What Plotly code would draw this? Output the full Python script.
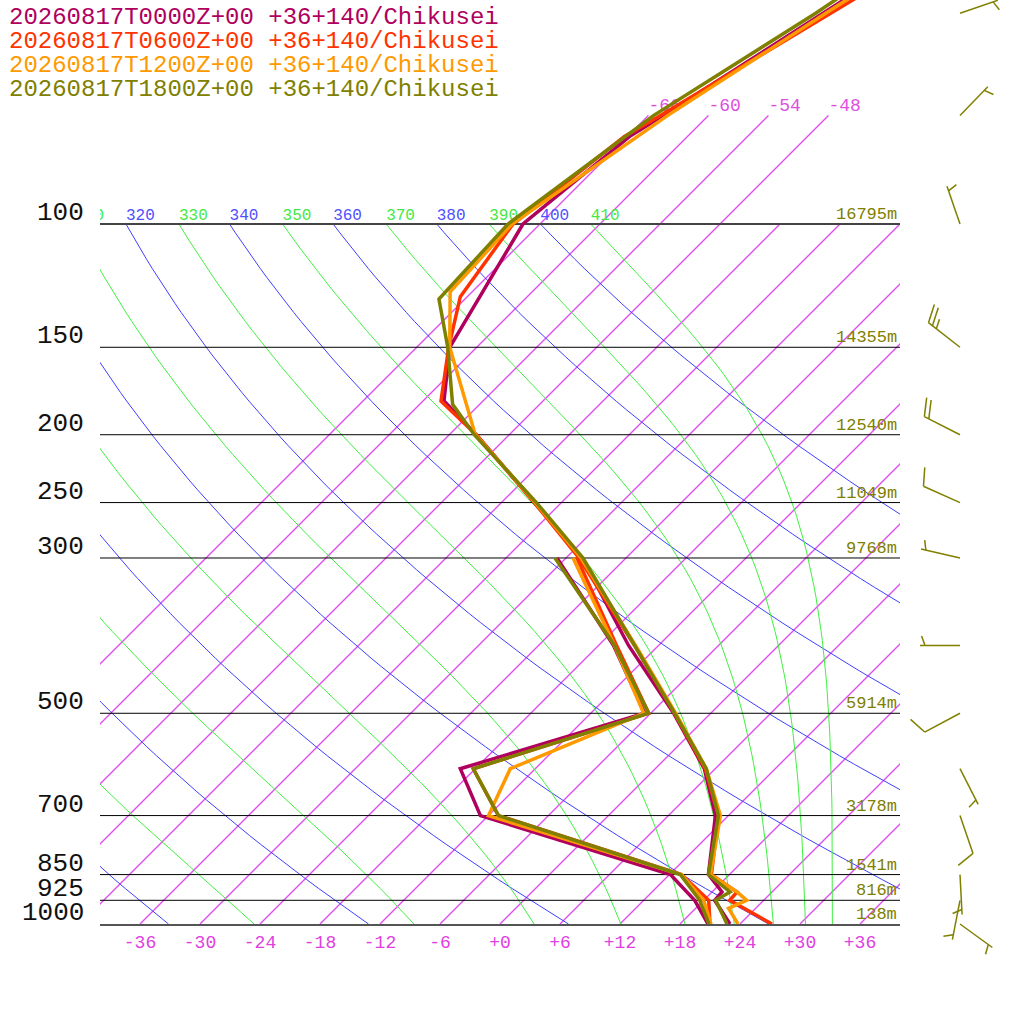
import numpy as np
import plotly.graph_objects as go

# ---------------- sounding data (deg C) ----------------
run_labels = ["20260817T0000Z+00 +36+140/Chikusei",
              "20260817T0600Z+00 +36+140/Chikusei",
              "20260817T1200Z+00 +36+140/Chikusei",
              "20260817T1800Z+00 +36+140/Chikusei"]
run_colors = ["#b0005e", "#ff3300", "#ff9900", "#808000"]

p_t_00 = [1000, 925, 900, 850, 700, 600, 500, 400, 300, 250, 200, 179, 150, 100, 75, 70, 50, 30]
t_00 = [23.0, 19.1, 19.0, 15.9, 10.7, 4.9, -3.7, -15.0, -28.4, -38.7, -51.3, -57.9, -62.7, -67.7, -65.8, -64.5, -58.8, -50.1]

p_t_06 = [1000, 925, 900, 850, 700, 600, 500, 400, 300, 250, 200, 179, 150, 127, 100, 75, 70, 50, 30]
t_06 = [27.2, 20.6, 20.5, 16.2, 11.0, 5.0, -3.6, -14.4, -28.7, -38.7, -51.3, -58.2, -62.8, -66.7, -68.7, -66.3, -64.8, -58.0, -47.7]

p_t_12 = [1000, 950, 925, 900, 850, 700, 600, 500, 400, 300, 250, 200, 150, 125, 100, 70, 50, 30]
t_12 = [23.8, 21.3, 22.3, 20.5, 16.1, 11.2, 5.1, -3.5, -14.3, -28.5, -38.6, -51.4, -62.7, -68.2, -68.8, -64.1, -58.5, -49.9]

p_t_18 = [1000, 925, 900, 850, 700, 600, 500, 400, 300, 250, 200, 181, 150, 128, 100, 70, 50, 30]
t_18 = [22.7, 19.2, 19.8, 15.9, 11.0, 5.1, -3.6, -14.4, -28.3, -38.5, -51.5, -56.7, -62.9, -68.6, -69.2, -65.5, -59.5, -52.1]

p_td = [1000, 925, 850, 700, 600, 500, 400, 300]
td_00 = [20.8, 17.1, 12.1, -12.8, -19.5, -6.6, -16.5, -30.9]
td_06 = [21.0, 18.5, 13.2, -11.0, -18.2, -6.2, -16.2, -28.9]
td_12 = [21.1, 18.0, 13.2, -12.0, -14.5, -6.7, -16.4, -29.3]
td_18 = [20.9, 17.6, 13.1, -11.0, -18.2, -6.2, -16.4, -31.1]

# standard levels and heights of the last run
p_std = [100, 150, 200, 250, 300, 500, 700, 850, 925, 1000]
hgt_18 = ["16795m", "14355m", "12540m", "11049m", "9768m", "5914m", "3178m", "1541m", "816m", "138m"]

# winds of the last run (direction deg, speed kt)
p_wind = [50, 70, 100, 150, 200, 250, 300, 400, 500, 600, 700, 850, 925, 1000]
wdir_18 = [71, 44, 341, 308, 297, 294, 283, 270, 242, 153, 161, 177, 191, 126]
wspd_18 = [5, 5, 5, 25, 20, 10, 5, 5, 10, 5, 10, 5, 5, 5]

# background lines
isotherms = list(range(-66, 37, 6))
labelled_isotherms = [-66, -60, -54, -48]
dry_theta = list(range(240, 401, 20))
moist_thetae = list(range(250, 411, 20))
temp_ticks = list(range(-36, 37, 6))

# ---------------- geometry ----------------
PX_LN = 304.0                 # pixels per ln(p) unit
SKEW = PX_LN / 10.0           # 10 px per degree -> 45 deg isotherms
P_TOP = 1000 * np.exp(-924 / PX_LN)
PPD = PX_LN * np.log(10)      # pixels per decade
MAGENTA = "#e050f0"


def skew_x(t, p):
    return np.asarray(t, float) + SKEW * np.log(1000.0 / np.asarray(p, float))


def thetae_sat(tk, p):
    tc = tk - 273.15
    es = np.minimum(6.112 * np.exp(17.67 * tc / (tc + 243.5)), 0.5 * p)
    r = 622.0 * es / (p - es)
    return tk * (1000.0 / p) ** (0.2854 * (1 - 0.00028 * r)) * \
        np.exp((3.376 / tk - 0.00254) * r * (1 + 0.00081 * r))


def moist_t(thetae, p):
    lo = np.full_like(p, 120.0)
    hi = np.full_like(p, 330.0)
    for _ in range(60):
        mid = 0.5 * (lo + hi)
        big = thetae_sat(mid, p) > thetae
        hi = np.where(big, mid, hi)
        lo = np.where(big, lo, mid)
    return 0.5 * (lo + hi) - 273.15


def joined(segments):
    xs, ys = [], []
    for x, y in segments:
        xs += [float(v) for v in x] + [None]
        ys += [float(v) for v in y] + [None]
    return xs, ys


fig = go.Figure()
pp = np.geomspace(1000, 100, 80)

# isotherms as layout lines under the traces
shapes = []
for t in isotherms:
    ptop = 70 if t in labelled_isotherms else 100
    x0, x1 = skew_x([t, t], [1000, ptop])
    shapes.append(dict(type="line", xref="x", yref="y", x0=float(x0), x1=float(x1),
                       y0=1000, y1=ptop, layer="below",
                       line=dict(color=MAGENTA, width=1.4)))

# dry adiabats
segs = [(skew_x(th * (pp / 1000) ** 0.2857 - 273.15, pp), pp) for th in dry_theta]
xs, ys = joined(segs)
fig.add_trace(go.Scatter(x=xs, y=ys, mode="lines", line=dict(color="#4040ff", width=1)))

# moist adiabats
segs = [(skew_x(moist_t(te, pp), pp), pp) for te in moist_thetae]
xs, ys = joined(segs)
fig.add_trace(go.Scatter(x=xs, y=ys, mode="lines", line=dict(color="#40f040", width=1)))

# isobars
for p in p_std[:-1]:
    fig.add_trace(go.Scatter(x=[-40, 40], y=[p, p], mode="lines",
                             line=dict(color="#444444" if p == 100 else "#000000",
                                       width=2 if p == 100 else 1)))

# labels on the background lines
fig.add_trace(go.Scatter(
    x=[float(skew_x(th * 0.1 ** 0.2857 - 273.15, 100)) for th in dry_theta], y=[100] * len(dry_theta),
    mode="text", text=[str(th) for th in dry_theta], textposition="top right",
    textfont=dict(family="Liberation Mono", size=16, color="#5050ff")))
te_lab = list(range(310, 411, 20))
fig.add_trace(go.Scatter(
    x=[float(skew_x(moist_t(te, np.array([100.0])), 100)[0]) for te in te_lab], y=[100] * len(te_lab),
    mode="text", text=[str(te) for te in te_lab], textposition="top right",
    textfont=dict(family="Liberation Mono", size=16, color="#44e844")))
fig.add_trace(go.Scatter(
    x=[float(v) for v in skew_x(labelled_isotherms, 70)], y=[70] * len(labelled_isotherms),
    mode="text", text=["%d" % t for t in labelled_isotherms], textposition="top right",
    textfont=dict(family="Liberation Mono", size=18, color="#dd50dd")))

# soundings
runs = [(p_t_00, t_00, td_00), (p_t_06, t_06, td_06), (p_t_12, t_12, td_12), (p_t_18, t_18, td_18)]
for (pt, tt, td), col in zip(runs, run_colors):
    fig.add_trace(go.Scatter(x=skew_x(td, p_td), y=p_td, mode="lines", line=dict(color=col, width=3.5)))
    fig.add_trace(go.Scatter(x=skew_x(tt, pt), y=pt, mode="lines", line=dict(color=col, width=3.5)))

# wind barbs (pixel geometry -> axis coordinates)
def y_px(p):
    return 924 - PX_LN * np.log(1000.0 / p)


bx, by = [], []
L, FULL, HALF, GAP = 40, 19, 10, 5
ang = np.radians(70)
for p, d, s in zip(p_wind, wdir_18, wspd_18):
    base = np.array([960.0, y_px(p)])
    u = np.array([np.sin(np.radians(d)), -np.cos(np.radians(d))])
    perp = np.array([-u[1], u[0]])
    bdir = np.cos(ang) * u + np.sin(ang) * perp
    tip = base + L * u
    pts = [[base, tip]]
    nfull, half = s // 10, (s % 10) >= 5
    pos = GAP if (nfull == 0 and half) else 0
    for _ in range(nfull):
        a = tip - pos * u
        pts.append([a, a + FULL * bdir])
        pos += GAP
    if half:
        a = tip - pos * u
        pts.append([a, a + HALF * bdir])
    for a, b in pts:
        for q in (a, b):
            bx.append(float(q[0] - 900))
            by.append(float(1000 * np.exp((q[1] - 924) / PX_LN)))
        bx.append(None)
        by.append(None)
fig.add_trace(go.Scatter(x=bx, y=by, mode="lines", line=dict(color="#808000", width=1.5),
                         xaxis="x2", yaxis="y2"))

# text annotations
ann = []
for i, (lab, col) in enumerate(zip(run_labels, run_colors)):
    ann.append(dict(text=lab, xref="paper", yref="paper", x=7 / 1024, y=1 - (17 + 24 * i) / 1024,
                    xanchor="left", yanchor="middle", showarrow=False,
                    font=dict(family="Liberation Mono", size=24, color=col)))
for p, h in zip(p_std, hgt_18):
    ann.append(dict(text=str(p), xref="paper", yref="y", x=86 / 1024, y=np.log10(p),
                    xanchor="right", yanchor="bottom", yshift=-6, showarrow=False,
                    font=dict(family="Liberation Mono", size=26, color="#111111")))
    ann.append(dict(text=h, xref="paper", yref="y", x=899 / 1024, y=np.log10(p),
                    xanchor="right", yanchor="bottom", yshift=-2, showarrow=False,
                    font=dict(family="Liberation Mono", size=17, color="#808000")))

fig.update_layout(
    width=1024, height=1024, margin=dict(l=0, r=0, t=0, b=0),
    paper_bgcolor="white", plot_bgcolor="rgba(0,0,0,0)", showlegend=False,
    annotations=ann, shapes=shapes, hovermode=False,
    xaxis=dict(domain=[100 / 1024, 900 / 1024], range=[-40, 40], showgrid=False, zeroline=False,
               tickvals=temp_ticks, ticktext=["%+d" % t if t != 0 else "+0" for t in temp_ticks],
               tickfont=dict(family="Liberation Mono", size=18, color="#e040e0"),
               showline=True, linecolor="#555555", linewidth=2, ticks="", anchor="y"),
    yaxis=dict(domain=[100 / 1024, 1], type="log", range=[3, np.log10(P_TOP)], showgrid=False,
               zeroline=False, showticklabels=False, anchor="x"),
    xaxis2=dict(domain=[900 / 1024, 1], range=[0, 124], visible=False, anchor="y2"),
    yaxis2=dict(domain=[0, 1], type="log", range=[3 + 100 / PPD, np.log10(P_TOP)],
                visible=False, anchor="x2"),
)

# page body has a default 8px margin; drop it so the chart sits at the window corner
fig.write_html("out.html", config={"displayModeBar": False},
               post_script="document.body.style.margin='0px';")
